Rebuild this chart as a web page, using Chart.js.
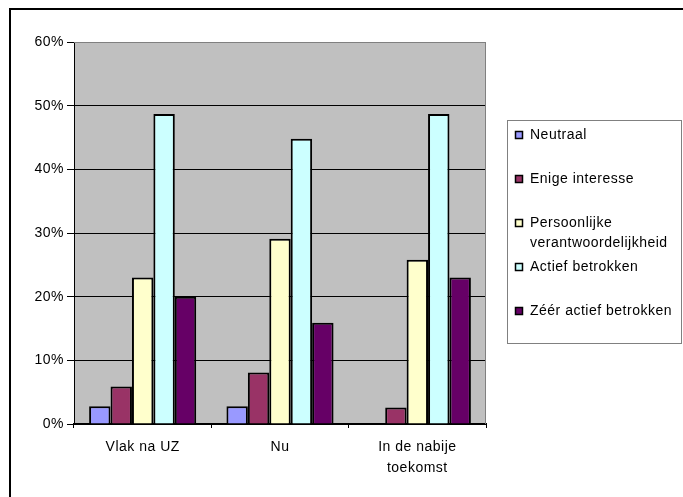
<!DOCTYPE html>
<html>
<head>
<meta charset="utf-8">
<script src="https://cdn.jsdelivr.net/npm/chart.js@4"></script>
<style>
html, body { margin: 0; background: #fff; }
#wrap { width: 683px; height: 497px; }
</style>
</head>
<body>
<div id="wrap"><canvas id="chart"></canvas></div>
<script>
const categories = [['Vlak na UZ'], ['Nu'], ['In de nabije', 'toekomst']];
const seriesNames = ['Neutraal', 'Enige interesse', 'Persoonlijke verantwoordelijkheid', 'Actief betrokken', 'Zéér actief betrokken'];
const neutraal = [2.8, 2.8, 0];
const enigeInteresse = [5.9, 8.1, 2.6];
const persoonlijk = [23.0, 29.1, 25.8];
const actiefBetrokken = [48.7, 44.8, 48.7];
const zeerActief = [20.0, 15.9, 23.0];
const seriesColors = ['#9999FF', '#993366', '#FFFFCC', '#CCFFFF', '#660066'];
const yMax = 60;
const yStep = 10;

const fontFamily = '"Liberation Sans", Arial, sans-serif';
const fontSize = 14;
const seriesValues = [neutraal, enigeInteresse, persoonlijk, actiefBetrokken, zeerActief];

// text in the original is spaced out a little
const spacing = {
    id: 'spacing',
    beforeLayout: (chart) => { chart.ctx.letterSpacing = '0.5px'; },
    beforeDraw: (chart) => { chart.ctx.letterSpacing = '0.5px'; }
};

const frame = {
    id: 'frame',
    beforeDraw: (chart) => {
        const { ctx, chartArea: a } = chart;
        ctx.save();
        ctx.fillStyle = '#fff';
        ctx.fillRect(0, 0, chart.width, chart.height);
        ctx.strokeStyle = '#000';
        ctx.lineWidth = 2;
        ctx.beginPath();
        ctx.moveTo(10, chart.height + 5);
        ctx.lineTo(10, 9);
        ctx.lineTo(chart.width + 5, 9);
        ctx.stroke();
        ctx.fillStyle = '#C0C0C0';
        ctx.fillRect(a.left, a.top, a.right - a.left, a.bottom - a.top);
        ctx.restore();
    },
    afterDraw: (chart) => {
        const { ctx, chartArea: a } = chart;
        ctx.save();
        ctx.strokeStyle = '#808080';
        ctx.lineWidth = 1;
        ctx.beginPath();
        ctx.moveTo(a.left, a.top + 0.5);
        ctx.lineTo(a.right - 0.5, a.top + 0.5);
        ctx.lineTo(a.right - 0.5, a.bottom);
        ctx.stroke();
        ctx.restore();
    }
};

const boxLegend = {
    id: 'boxLegend',
    afterDraw: (chart) => {
        const ctx = chart.ctx;
        ctx.save();
        ctx.letterSpacing = '0.5px';
        ctx.strokeStyle = '#808080';
        ctx.lineWidth = 1;
        ctx.strokeRect(507.5, 120.5, 174, 223);
        ctx.font = fontSize + 'px ' + fontFamily;
        ctx.textBaseline = 'middle';
        chart.data.datasets.forEach((ds, i) => {
            const y = 135 + i * 44;
            ctx.fillStyle = ds.backgroundColor;
            ctx.fillRect(515, y - 4, 8, 8);
            ctx.strokeStyle = '#000';
            ctx.lineWidth = 1.5;
            ctx.strokeRect(515.5, y - 3.5, 7, 7);
            ctx.fillStyle = '#000';
            const words = ds.label.split(' ');
            const lines = [];
            let line = '';
            words.forEach((w) => {
                const test = line ? line + ' ' + w : w;
                if (line && ctx.measureText(test).width > 150) {
                    lines.push(line);
                    line = w;
                } else {
                    line = test;
                }
            });
            lines.push(line);
            lines.forEach((l, j) => ctx.fillText(l, 530, y + j * 20));
        });
        ctx.restore();
    }
};

new Chart(document.getElementById('chart'), {
    type: 'bar',
    data: {
        labels: categories,
        datasets: seriesNames.map((name, i) => ({
            label: name,
            data: seriesValues[i],
            backgroundColor: seriesColors[i],
            borderColor: '#000',
            borderWidth: 2,
            categoryPercentage: 0.78,
            barPercentage: 1
        }))
    },
    options: {
        responsive: true,
        maintainAspectRatio: false,
        animation: false,
        layout: { padding: { top: 42, right: 197, left: 0, bottom: 0 } },
        plugins: {
            legend: { display: false },
            tooltip: { enabled: false }
        },
        scales: {
            x: {
                offset: true,
                afterFit: (scale) => { scale.height = 73; },
                grid: {
                    offset: true,
                    drawOnChartArea: false,
                    drawTicks: true,
                    tickLength: 4,
                    color: '#000'
                },
                border: { color: '#000', width: 2 },
                ticks: {
                    color: '#000',
                    maxRotation: 0,
                    padding: 9,
                    font: { family: fontFamily, size: fontSize, lineHeight: 1.5 }
                }
            },
            y: {
                min: 0,
                max: yMax,
                afterFit: (scale) => { scale.width = 74; },
                grid: {
                    color: (c) => c.tick && c.tick.value === yMax ? '#808080' : '#000',
                    tickColor: '#000',
                    tickLength: 7,
                    lineWidth: 1
                },
                border: { color: '#000', width: 1 },
                ticks: {
                    stepSize: yStep,
                    color: '#000',
                    padding: 3,
                    font: { family: fontFamily, size: fontSize },
                    callback: (v) => v + '%'
                }
            }
        }
    },
    plugins: [spacing, frame, boxLegend]
});
</script>
</body>
</html>
